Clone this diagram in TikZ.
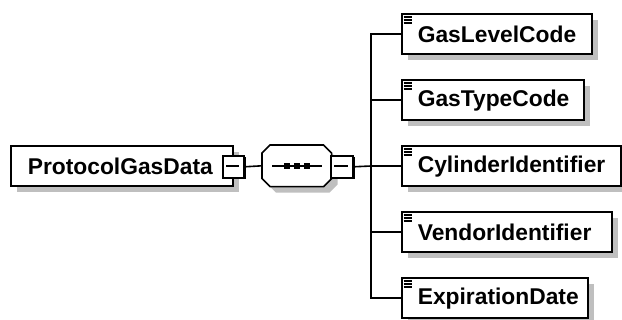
\documentclass[tikz,border=0pt]{standalone}
\usepackage{fontspec}
\setmainfont{Liberation Sans}
\usetikzlibrary{shadows}
\begin{document}
\begin{tikzpicture}[x=1pt,y=-1pt,
  line width=1.6pt,
  shad/.style={drop shadow={shadow xshift=6pt,shadow yshift=-6pt,fill=black!25,opacity=1}},
  elbox/.style={draw=black,fill=white,shad,rectangle,minimum height=40pt,inner sep=0pt,anchor=north west},
  lbl/.style={anchor=west,inner sep=0pt,font=\fontsize{22.8}{25}\selectfont\bfseries},
  minusbox/.style={draw=black,fill=white,minimum width=21pt,minimum height=22pt,inner sep=0pt,anchor=north west},
  conn/.style={line width=1.6pt}
]
\useasboundingbox (0,0) rectangle (622,320);
% root
\node[elbox,minimum width=222pt] (root) at (10,145) {};
\node[lbl] (rootl) at (27,166) {ProtocolGasData};
\fill[black] (224,157) rectangle (245.5,179.5);
\node[minusbox] (m1) at (222,155) {};
\draw[line width=1.2pt] (226,166) -- (239,166);
% sequence
\node[minimum width=68pt,minimum height=40pt,inner sep=0pt,anchor=north west] (seq) at (262,145) {};
\path[draw=black,fill=white,shad]
  ([xshift=8pt]seq.north west) -- ([xshift=-8pt]seq.north east) -- ([yshift=-8pt]seq.north east)
  -- ([yshift=8pt]seq.south east) -- ([xshift=-8pt]seq.south east) -- ([xshift=8pt]seq.south west)
  -- ([yshift=8pt]seq.south west) -- ([yshift=-8pt]seq.north west) -- cycle;
\draw[line width=1.2pt] (272,166) -- (322,166);
\foreach \xx in {287,297,307}{\fill[black] (\xx-3,163) rectangle (\xx+3,169);}
\fill[black] (332,157) rectangle (354.5,179.5);
\node[minusbox,minimum width=22pt] (m2) at (330,155) {};
\draw[line width=1.2pt] (334,166) -- (348,166);
\draw[conn] (m1.east) -- (seq.west);
\coordinate (trunk) at (371,166);
\draw[conn] (m2.east) -- (trunk);
% children
\foreach \nm/\txt/\w/\yt in {c1/GasLevelCode/190/13, c2/GasTypeCode/182/79, c3/CylinderIdentifier/219/145, c4/VendorIdentifier/210/211, c5/ExpirationDate/186/277}{
  \node[elbox,minimum width=\w pt] (\nm) at (401,\yt) {};
  \node[lbl] (\nm l) at (417,\yt+21.5) {\txt};
  \foreach \dy in {4,7,10}{\draw[line width=1.1pt] (403.5,\yt+\dy) -- (412,\yt+\dy);}
}
\draw[conn] (c1.west) -- (c1.west -| trunk) -- (c5.west -| trunk) -- (c5.west);
\foreach \nm in {c2,c3,c4}{\draw[conn] (\nm.west -| trunk) -- (\nm.west);}
\end{tikzpicture}
\end{document}
